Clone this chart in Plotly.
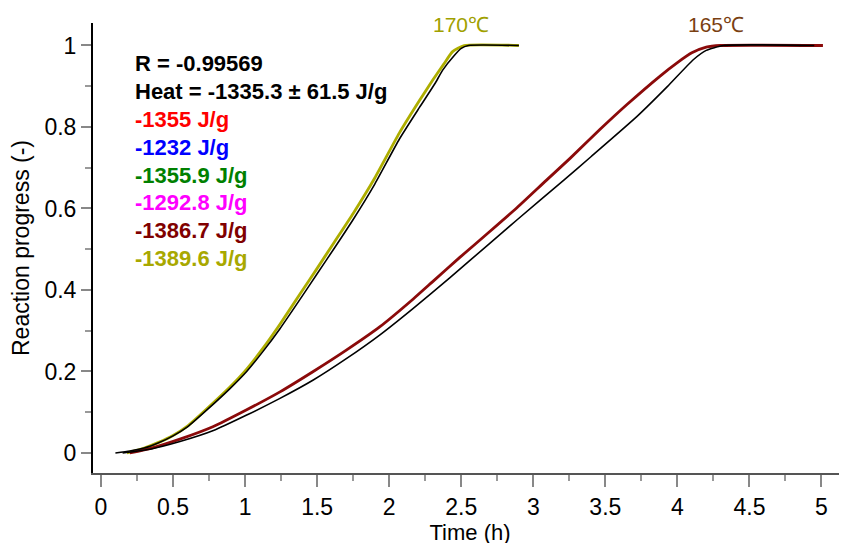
import plotly.graph_objects as go

# ---- data ----
t170_obs = [0.18, 0.3, 0.4, 0.5, 0.6, 0.733, 0.895, 1.011, 1.126, 1.242, 1.381, 1.5, 1.62, 1.75, 1.9, 2.07, 2.21, 2.3, 2.38, 2.44, 2.52, 2.9]
p170_obs = [0.0, 0.012, 0.026, 0.043, 0.066, 0.108, 0.162, 0.206, 0.258, 0.316, 0.39, 0.453, 0.518, 0.588, 0.675, 0.785, 0.865, 0.914, 0.955, 0.985, 1.0, 1.0]

t170_fit = [0.1, 0.2, 0.3, 0.4, 0.5, 0.6, 0.733, 0.895, 1.011, 1.126, 1.242, 1.381, 1.5, 1.62, 1.75, 1.9, 2.07, 2.21, 2.32, 2.37, 2.45, 2.5, 2.55, 2.9]
p170_fit = [0.0, 0.005, 0.012, 0.025, 0.042, 0.064, 0.105, 0.158, 0.2, 0.25, 0.305, 0.377, 0.44, 0.503, 0.573, 0.66, 0.77, 0.848, 0.908, 0.939, 0.975, 0.993, 1.0, 1.0]

t165_obs = [0.2, 0.35, 0.548, 0.78, 1.011, 1.242, 1.473, 1.705, 1.936, 2.167, 2.3, 2.49, 2.69, 2.89, 3.09, 3.255, 3.46, 3.65, 3.88, 4.0, 4.1, 4.2, 4.3, 5.01]
p165_obs = [0.0, 0.012, 0.034, 0.065, 0.106, 0.15, 0.2, 0.253, 0.31, 0.378, 0.42, 0.48, 0.541, 0.603, 0.669, 0.723, 0.793, 0.855, 0.925, 0.958, 0.982, 0.996, 1.0, 1.0]

t165_fit = [0.15, 0.35, 0.548, 0.78, 1.011, 1.242, 1.473, 1.705, 1.936, 2.167, 2.42, 2.69, 2.89, 3.21, 3.4, 3.72, 3.93, 4.11, 4.2, 4.32, 4.95]
p165_fit = [0.0, 0.01, 0.028, 0.055, 0.093, 0.134, 0.179, 0.232, 0.29, 0.355, 0.43, 0.512, 0.573, 0.669, 0.727, 0.826, 0.899, 0.965, 0.988, 1.0, 1.0]

info_lines = ["R = -0.99569", "Heat = -1335.3 ± 61.5 J/g", "-1355 J/g", "-1232 J/g",
              "-1355.9 J/g", "-1292.8 J/g", "-1386.7 J/g", "-1389.6 J/g"]
info_colors = ["#000000", "#000000", "#FF0000", "#0000FF", "#008000", "#FF00FF", "#800000", "#A8A800"]

temp_labels = ["170℃", "165℃"]
temp_label_x = [2.5, 4.27]
temp_colors = ["#A0A000", "#7A3F12"]

OLIVE = "#AEAE00"
DARKRED = "#8B0A0A"
FONT = "Liberation Sans, Arial, sans-serif"

fig = go.Figure()
fig.add_trace(go.Scatter(x=t170_obs, y=p170_obs, mode="lines", line=dict(color=OLIVE, width=2.8, shape="spline", smoothing=0.5), showlegend=False))
fig.add_trace(go.Scatter(x=t165_obs, y=p165_obs, mode="lines", line=dict(color=DARKRED, width=2.8, shape="spline", smoothing=0.5), showlegend=False))
fig.add_trace(go.Scatter(x=t170_fit, y=p170_fit, mode="lines", line=dict(color="#000000", width=1.6, shape="spline", smoothing=0.5), showlegend=False))
fig.add_trace(go.Scatter(x=t165_fit, y=p165_fit, mode="lines", line=dict(color="#000000", width=1.6, shape="spline", smoothing=0.5), showlegend=False))

annotations = []
y0 = 453.0
per = 407.5
for i, (txt, col) in enumerate(zip(info_lines, info_colors)):
    ypx = 64 + i * 27.8
    annotations.append(dict(x=(133 - 101) / 144.1, y=(y0 - ypx) / per, xref="x", yref="y",
                            text="<b>%s</b>" % txt, showarrow=False, xanchor="left", yanchor="middle",
                            font=dict(family=FONT, size=22, color=col)))
for txt, xv, col in zip(temp_labels, temp_label_x, temp_colors):
    annotations.append(dict(x=xv, y=(y0 - 25) / per, xref="x", yref="y", text=txt, showarrow=False,
                            xanchor="center", yanchor="middle", font=dict(family=FONT, size=21, color=col)))

# the page body adds an 8px offset, margins compensate for it
fig.update_layout(
    width=847, height=543,
    margin=dict(l=85, r=8, t=15, b=78),
    paper_bgcolor="white", plot_bgcolor="white",
    font=dict(family=FONT, size=23, color="black"),
    annotations=annotations,
    xaxis=dict(range=[-0.0555, 5.177], dtick=0.5, tick0=0, ticks="outside", ticklen=12, tickwidth=2,
               tickcolor="#888888", showline=True, linecolor="#555555", linewidth=2, showgrid=False,
               zeroline=False, tickfont=dict(size=23), automargin=False,
               minor=dict(dtick=0.25, ticks="outside", ticklen=6, tickwidth=2, tickcolor="#999999"),
               title=dict(text="Time (h)", font=dict(size=22), standoff=0)),
    yaxis=dict(range=[-0.0491, 1.0552], dtick=0.2, tick0=0, ticks="outside", ticklen=10, tickwidth=2,
               tickcolor="#888888", showline=True, linecolor="#000000", linewidth=2, showgrid=False,
               zeroline=False, tickfont=dict(size=23), automargin=False,
               minor=dict(dtick=0.1, ticks="outside", ticklen=6, tickwidth=2, tickcolor="#999999"),
               title=dict(text="Reaction progress (-)", font=dict(size=23), standoff=8)),
)

fig.write_html("out.html")
